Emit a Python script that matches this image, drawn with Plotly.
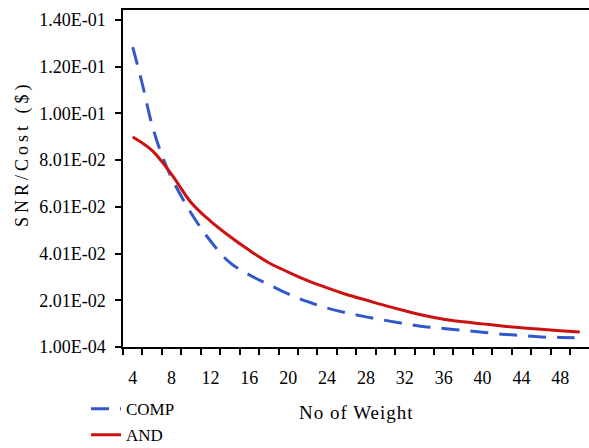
import plotly.graph_objects as go

# ---- data ----
comp_x = [4, 5, 6, 7, 8, 10, 12, 14, 16, 18, 20, 22, 24, 26, 28, 30, 32, 34, 36, 38, 40, 42, 44, 46, 48, 50]
comp_y = [0.1285, 0.1125, 0.0950, 0.0823, 0.0725, 0.0575, 0.0455, 0.0362, 0.0310, 0.0268, 0.0228,
          0.0195, 0.0168, 0.0147, 0.0130, 0.0115, 0.0101, 0.0088, 0.0080, 0.0072, 0.0064, 0.0056,
          0.0050, 0.0044, 0.0042, 0.0040]

and_x = [4, 6, 8, 10, 12, 14, 16, 18, 20, 22, 24, 26, 28, 30, 32, 34, 36, 38, 40, 42, 44, 46, 48, 50]
and_y = [0.0900, 0.0842, 0.0740, 0.0620, 0.0540, 0.0474, 0.0415, 0.0362, 0.0322, 0.0285, 0.0254,
         0.0226, 0.0202, 0.0178, 0.0156, 0.0136, 0.0120, 0.0109, 0.0100, 0.0091, 0.0083, 0.0077,
         0.0071, 0.0065]

x_label_vals = [4, 8, 12, 16, 20, 24, 28, 32, 36, 40, 44, 48]
x_minor_vals = [3, 5, 7, 9, 11, 13, 15, 17, 19, 21, 23, 25, 27, 29, 31, 33, 35, 37, 39, 41, 43, 45, 47, 49]
y_tick_vals = [0.0001, 0.0201, 0.0401, 0.0601, 0.0801, 0.1001, 0.1201, 0.1401]
y_tick_text = ["1.00E-04", "2.01E-02", "4.01E-02", "6.01E-02", "8.01E-02", "1.00E-01", "1.20E-01", "1.40E-01"]

FONT = "Liberation Serif, Times New Roman, serif"

fig = go.Figure()
fig.add_trace(go.Scatter(x=comp_x, y=comp_y, mode="lines", name="COMP",
                         line=dict(color="#3358CC", width=3, dash="18px,11px", shape="spline"),
                         legendgroup="a"))
fig.add_trace(go.Scatter(x=and_x, y=and_y, mode="lines", name="AND",
                         line=dict(color="#CC1111", width=3, shape="spline"),
                         legendgroup="b"))

fig.update_layout(
    width=589, height=448,
    margin=dict(l=123, r=0, t=10, b=101, autoexpand=False),
    paper_bgcolor="white", plot_bgcolor="white",
    font=dict(family=FONT, size=18, color="black"),
    showlegend=True,
    legend=dict(xref="container", yref="container", x=0.146, y=0.127,
                xanchor="left", yanchor="top", orientation="v",
                font=dict(family=FONT, size=17, color="black"),
                bgcolor="rgba(0,0,0,0)", tracegroupgap=1, itemwidth=30),
    xaxis=dict(range=[3, 50.95], showgrid=False, zeroline=False, automargin=False,
               showline=True, linecolor="black", linewidth=1.5, mirror=True,
               tickmode="array", tickvals=x_label_vals, ticks="",
               ticklabelstandoff=14, tickfont=dict(family=FONT, size=18),
               minor=dict(tickmode="array", tickvals=x_minor_vals, ticks="outside",
                          ticklen=6, tickwidth=1.5, tickcolor="black", showgrid=False)),
    yaxis=dict(range=[0.0001, 0.1444], showgrid=False, zeroline=False, automargin=False,
               showline=True, linecolor="black", linewidth=1.5,
               tickmode="array", tickvals=y_tick_vals, ticktext=y_tick_text,
               ticks="outside", ticklen=6, tickwidth=1.5, tickcolor="black",
               ticklabelstandoff=6, tickfont=dict(family=FONT, size=18)),
    annotations=[
        dict(text='<span style="letter-spacing:1px">No of Weight</span>',
             xref="paper", yref="paper", x=0.502, y=-0.193,
             xanchor="center", yanchor="middle", showarrow=False,
             font=dict(family=FONT, size=19, color="black")),
        dict(text='<span style="letter-spacing:4px">SNR/Cost ($)</span>',
             xref="paper", yref="paper", x=-0.2146, y=0.5757, textangle=-90,
             xanchor="center", yanchor="middle", showarrow=False,
             font=dict(family=FONT, size=18, color="black")),
    ],
)

fig.write_html("out.html")
